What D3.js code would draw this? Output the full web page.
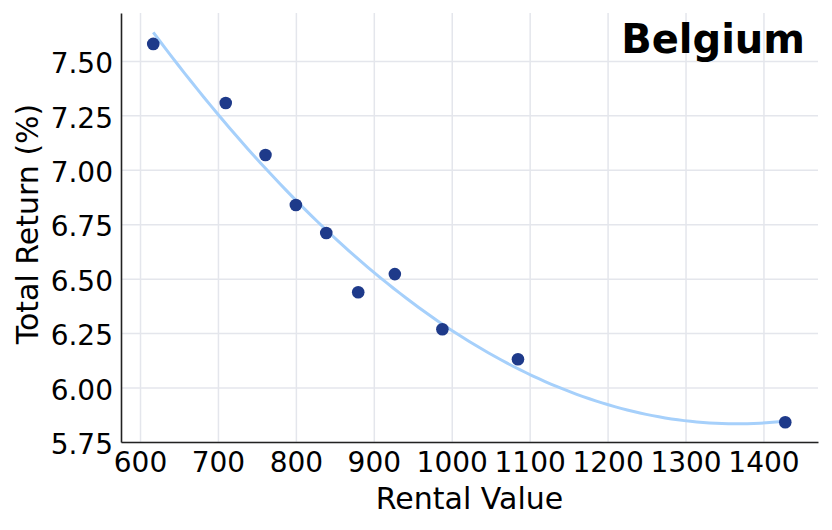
<!DOCTYPE html>
<html>
<head>
<meta charset="utf-8">
<script src="https://cdn.jsdelivr.net/npm/d3@7"></script>
<style>
    body { margin: 0; background: #fff; }
    svg { display: block; }
    svg text { font-family: "DejaVu Sans", sans-serif; fill: #000; }
    .grid line { stroke: #e4e6ec; stroke-width: 1.5; }
    .grid path { display: none; }
    .axis path { stroke: #222; stroke-width: 1.6; }
    .axis line { display: none; }
    .axis text { font-size: 28px; }
</style>
</head>
<body>
<div id="chart"></div>
<script>
const rentalValue = [617, 710, 761, 800, 839, 880, 927, 988, 1085, 1428];
const totalReturn = [7.578, 7.307, 7.068, 6.838, 6.710, 6.438, 6.521, 6.268, 6.130, 5.841];
const xTicks = [600, 700, 800, 900, 1000, 1100, 1200, 1300, 1400];
const yTicks = [5.75, 6.00, 6.25, 6.50, 6.75, 7.00, 7.25, 7.50];
const country = 'Belgium';

const chartWidth = 832;
const chartHeight = 530;
const margin = { top: 13, right: 14, bottom: 88, left: 121 };
const width = chartWidth - margin.left - margin.right;
const height = chartHeight - margin.top - margin.bottom;

const points = rentalValue.map((x, i) => ({ x, y: totalReturn[i] }));

// quadratic least squares trend
function quadFit(data) {
    let s = [0, 0, 0, 0, 0], t = [0, 0, 0];
    data.forEach(d => {
        for (let k = 0; k < 5; k++) s[k] += Math.pow(d.x, k);
        for (let k = 0; k < 3; k++) t[k] += Math.pow(d.x, k) * d.y;
    });
    const m = [[s[0], s[1], s[2], t[0]], [s[1], s[2], s[3], t[1]], [s[2], s[3], s[4], t[2]]];
    for (let i = 0; i < 3; i++) {
        for (let j = i + 1; j < 3; j++) {
            const f = m[j][i] / m[i][i];
            for (let k = i; k < 4; k++) m[j][k] -= f * m[i][k];
        }
    }
    const c = [0, 0, 0];
    for (let i = 2; i >= 0; i--) {
        let v = m[i][3];
        for (let k = i + 1; k < 3; k++) v -= m[i][k] * c[k];
        c[i] = v / m[i][i];
    }
    return x => c[0] + c[1] * x + c[2] * x * x;
}

const fit = quadFit(points);
const xMin = d3.min(rentalValue), xMax = d3.max(rentalValue);
const curve = d3.range(0, 101).map(i => {
    const x = xMin + (xMax - xMin) * i / 100;
    return { x, y: fit(x) };
});

const svg = d3.select('#chart')
    .append('svg')
    .attr('width', chartWidth)
    .attr('height', chartHeight);

const g = svg.append('g')
    .attr('transform', `translate(${margin.left},${margin.top})`);

const x = d3.scaleLinear().domain([575.6, 1470]).range([0, width]);
const y = d3.scaleLinear().domain([5.75, 7.72]).range([height, 0]);

g.append('g')
    .attr('class', 'grid')
    .attr('transform', `translate(0,${height})`)
    .call(d3.axisBottom(x).tickValues(xTicks).tickSize(-height).tickFormat(''));

g.append('g')
    .attr('class', 'grid')
    .call(d3.axisLeft(y).tickValues(yTicks).tickSize(-width).tickFormat(''));

g.append('path')
    .datum(curve)
    .attr('fill', 'none')
    .attr('stroke', '#a6d0fb')
    .attr('stroke-width', 3)
    .attr('d', d3.line().x(d => x(d.x)).y(d => y(d.y)));

g.selectAll('.dot')
    .data(points)
    .enter().append('circle')
    .attr('class', 'dot')
    .attr('cx', d => x(d.x))
    .attr('cy', d => y(d.y))
    .attr('r', 6.3)
    .attr('fill', '#1e3a8a');

g.append('g')
    .attr('class', 'axis')
    .attr('transform', `translate(0,${height})`)
    .call(d3.axisBottom(x).tickValues(xTicks).tickSizeOuter(0).tickSize(0).tickPadding(10).tickFormat(d3.format('d')));

g.append('g')
    .attr('class', 'axis')
    .call(d3.axisLeft(y).tickValues(yTicks).tickSizeOuter(0).tickSize(0).tickPadding(8).tickFormat(d3.format('.2f')))
    .selectAll('text')
    .attr('dy', '0.42em');

g.append('text')
    .attr('x', width / 2)
    .attr('y', height + 67)
    .attr('text-anchor', 'middle')
    .style('font-size', '30px')
    .text('Rental Value');

g.append('text')
    .attr('transform', 'rotate(-90)')
    .attr('x', -(224 - margin.top))
    .attr('y', -83)
    .attr('text-anchor', 'middle')
    .style('font-size', '30px')
    .text('Total Return (%)');

g.append('text')
    .attr('x', width - 13)
    .attr('y', 40)
    .attr('text-anchor', 'end')
    .style('font-size', '40px')
    .style('font-weight', 'bold')
    .text(country);
</script>
</body>
</html>
